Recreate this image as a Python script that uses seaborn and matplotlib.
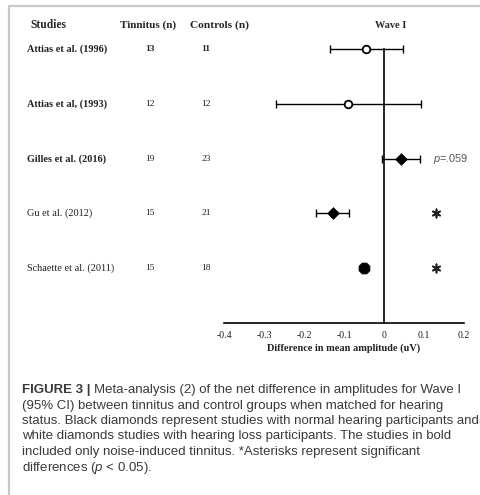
import matplotlib
matplotlib.use('Agg')
import matplotlib.pyplot as plt
import seaborn as sns
import pandas as pd
from matplotlib.lines import Line2D

# data
studies = ['Attias et al. (1996)', 'Attias et al, (1993)', 'Gilles et al. (2016)',
           'Gu et al. (2012)', 'Schaette et al. (2011)']
tinnitus_n = [13, 12, 19, 15, 15]
controls_n = [11, 12, 23, 21, 18]
diff = [-0.045, -0.09, 0.042, -0.128, -0.05]
ci_low = [-0.135, -0.27, -0.006, -0.17, -0.056]
ci_high = [0.048, 0.093, 0.09, -0.087, -0.044]
hearing = ['loss', 'loss', 'normal', 'normal', 'normal']
bold_study = [True, True, True, False, False]
significant = [False, False, False, True, True]
x_ticks = [-0.4, -0.3, -0.2, -0.1, 0, 0.1, 0.2]

df = pd.DataFrame({'study': studies, 'diff': diff, 'lo': ci_low, 'hi': ci_high,
                   'hearing': hearing, 'row': list(range(len(studies), 0, -1))})

sns.set_style('white')
plt.rcParams['font.family'] = ['Liberation Serif', 'DejaVu Serif']
plt.rcParams['mathtext.fontset'] = 'custom'
plt.rcParams['mathtext.it'] = 'Liberation Sans:italic'
plt.rcParams['mathtext.rm'] = 'Liberation Sans'

W, H = 480, 495
fig = plt.figure(figsize=(4.8, 4.95), dpi=100)

def fx(px):
    return px / W

def fy(py):
    return 1 - py / H

# main axes: x=-0.4 at 224px, 0.2 at 464px; y=0 at 323px, y=5 at 49px
ax = fig.add_axes([fx(224), fy(323), fx(464) - fx(224), fy(49) - fy(323)])
ax.set_xlim(-0.4, 0.2)
ax.set_ylim(0, 5)

# error bars
ax.errorbar(df['diff'], df['row'],
            xerr=[df['diff'] - df['lo'], df['hi'] - df['diff']],
            fmt='none', ecolor='black', elinewidth=1.0, capsize=3, capthick=1.0,
            clip_on=False, zorder=2)

# markers: open circles (hearing loss), black diamonds (normal hearing)
loss = df[df['hearing'] == 'loss']
norm = df[df['hearing'] == 'normal']
sns.scatterplot(data=loss, x='diff', y='row', ax=ax, marker='o', s=30,
                facecolor='white', edgecolor='black', linewidth=1.3,
                clip_on=False, zorder=3, legend=False)
sns.scatterplot(data=norm.iloc[:2], x='diff', y='row', ax=ax, marker='D', s=36,
                color='black', edgecolor='black', clip_on=False, zorder=3, legend=False)
sns.scatterplot(data=norm.iloc[2:], x='diff', y='row', ax=ax, marker='8', s=70,
                color='black', edgecolor='black', clip_on=False, zorder=3, legend=False)

# significance asterisks
sig = df[significant]
ax.scatter([0.13] * len(sig), sig['row'], marker=(6, 2, 0), s=36,
           color='#222222', linewidths=1.2, clip_on=False, zorder=3)
ax.text(0.123, 3, r'$\it{p}$=.059', fontsize=7.9, color='#555555',
        va='center', ha='left', family=['Liberation Sans'])

# axes styling
for s in ['top', 'right']:
    ax.spines[s].set_visible(False)
ax.spines['left'].set_position(('data', 0))
ax.spines['left'].set_bounds(0, 5)
ax.spines['bottom'].set_bounds(-0.4, 0.2)
for s in ['left', 'bottom']:
    ax.spines[s].set_linewidth(1.2)
    ax.spines[s].set_color('black')
ax.set_xticks(x_ticks)
ax.set_xticklabels(['-0.4', '-0.3', '-0.2', '-0.1', '0', '0.1', '0.2'])
ax.set_yticks([0.5, 1.5, 2.5, 3.5, 4.5])
ax.set_yticklabels([])
ax.tick_params(axis='x', direction='inout', length=4, width=1.0, labelsize=7.1,
               pad=4, color='black', labelcolor='#222222')
ax.tick_params(axis='y', direction='in', length=3, width=1.0, color='black')
ax.set_xlabel('Difference in mean amplitude (uV)', fontsize=7.4,
              fontweight='bold', labelpad=2, color='#222222')
ax.set_ylabel('')
ax.patch.set_alpha(0)

# table text on the left
fig.text(fx(30), fy(25), 'Studies', fontsize=8.3, fontweight='bold', va='center', ha='left')
fig.text(fx(148.5), fy(25), 'Tinnitus (n)', fontsize=8.0, fontweight='bold', va='center', ha='center')
fig.text(fx(220), fy(25), 'Controls (n)', fontsize=8.2, fontweight='bold', va='center', ha='center')
fig.text(fx(390.5), fy(25), 'Wave I', fontsize=7.4, fontweight='bold', va='center', ha='center')

row_px = [49, 104, 159, 213, 268]
for i in range(len(studies)):
    w = 'bold' if bold_study[i] else 'normal'
    nw = 'bold' if i == 0 else 'normal'
    fig.text(fx(27), fy(row_px[i]), studies[i], fontsize=7.4, fontweight=w,
             va='center', ha='left', color='#222222')
    fig.text(fx(150), fy(row_px[i]), str(tinnitus_n[i]), fontsize=6.8, fontweight=nw,
             va='center', ha='center', color='#222222')
    fig.text(fx(206), fy(row_px[i]), str(controls_n[i]), fontsize=6.8, fontweight=nw,
             va='center', ha='center', color='#222222')

# frame lines
fig.add_artist(Line2D([fx(9), fx(9)], [fy(6), fy(495)], color='#c8c8c8', lw=1.6))
fig.add_artist(Line2D([fx(9), fx(480)], [fy(6), fy(6)], color='#c8c8c8', lw=1.6))

# caption
cap_kw = dict(fontsize=9.5, color='#3a3a3a', va='center', ha='left',
              family=['Liberation Sans', 'DejaVu Sans'])
lines = ['Meta-analysis (2) of the net difference in amplitudes for Wave I',
         '(95% CI) between tinnitus and control groups when matched for hearing',
         'status. Black diamonds represent studies with normal hearing participants and',
         'white diamonds studies with hearing loss participants. The studies in bold',
         'included only noise-induced tinnitus. *Asterisks represent significant',
         r'differences ($\it{p}$ < 0.05).']
line_px = [390, 405.5, 421, 436.5, 452, 467.5]
head = fig.text(fx(22), fy(line_px[0]), 'FIGURE 3 | ', fontweight='bold', **cap_kw)
fig.canvas.draw()
bb = head.get_window_extent()
fig.text(bb.x1 / W, fy(line_px[0]), lines[0], **cap_kw)
for t, py in zip(lines[1:], line_px[1:]):
    fig.text(fx(22), fy(py), t, **cap_kw)

fig.savefig('out.png', dpi=100)
